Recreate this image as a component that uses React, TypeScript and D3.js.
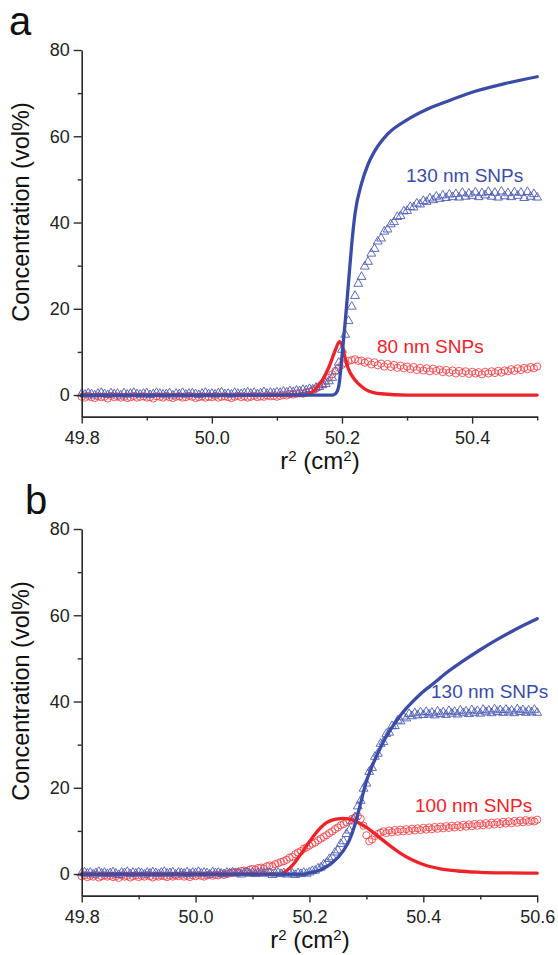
import React, { useEffect, useRef } from "react";
import * as d3 from "d3";

// sampling grid of the measured profiles (r^2 step, cm^2)
const STEP = 0.005;
const X_START = 49.8;

// Panel a: 130 nm SNPs (triangles) and 80 nm SNPs (circles), 49.8 .. 50.5
const A_TRI = [
  0.3,0.1,0.4,0.2,-0.1,0.3,0.5,0.2,0.0,0.4,
  0.2,0.3,-0.1,0.4,0.1,0.3,0.5,0.2,0.1,0.3,
  0.4,0.0,0.2,0.5,0.3,0.1,0.2,0.4,-0.1,0.3,
  0.2,0.5,0.1,0.3,0.4,0.2,0.0,0.3,0.5,0.2,
  0.3,0.1,0.4,0.6,0.2,0.3,0.1,0.5,0.3,0.2,
  0.4,0.6,0.3,0.5,0.2,0.4,0.7,0.3,0.5,0.4,
  0.6,
  0.5,0.8,0.6,0.9,0.7,1.0,0.9,1.2,
  1.1,1.4,1.3,1.7,1.9,2.3,2.6,3.2,4.0,5.5,7.5,
  10.5,14.0,17.2,20.5,23.0,25.8,27.4,29.8,30.9,32.8,
  33.9,35.6,36.3,37.9,38.4,39.6,40.1,41.3,41.5,42.6,
  42.7,43.6,43.5,44.4,44.2,45.0,44.8,45.6,45.2,46.0,45.5,
  46.3,45.7,46.5,45.9,46.6,45.8,46.9,46.0,46.7,46.2,
  47.0,45.9,46.8,46.3,47.1,46.0,46.9,45.8,47.2,46.1,
  46.8,45.9,47.0,46.2,46.9,45.7,47.1,46.0,46.6,45.8,
];
const A_CIR = [
  -0.4,-0.6,-0.2,-0.5,-0.7,-0.3,-0.5,-0.4,-0.8,-0.2,
  -0.5,-0.3,-0.6,-0.4,-0.7,-0.5,-0.2,-0.6,-0.4,-0.3,
  -0.6,-0.5,-0.8,-0.3,-0.4,-0.6,-0.2,-0.5,-0.7,-0.4,
  -0.3,-0.6,-0.5,-0.2,-0.4,-0.7,-0.5,-0.3,-0.6,-0.4,
  -0.5,-0.2,-0.6,-0.4,-0.3,-0.5,-0.7,-0.4,-0.2,-0.5,
  -0.3,-0.6,-0.4,-0.2,-0.5,-0.3,-0.4,-0.1,-0.3,-0.2,
  -0.4,
  -0.2,0.0,-0.1,0.2,0.1,0.3,0.4,0.3,0.6,
  0.8,1.1,1.5,2.0,2.6,3.2,4.0,4.8,5.6,6.3,7.0,7.4,7.9,8.1,8.3,7.9,8.0,7.5,7.8,
  7.1,7.6,6.9,7.3,6.6,7.2,6.5,7.0,6.3,6.8,6.2,6.6,
  6.0,6.5,5.8,6.3,5.7,6.2,5.5,6.1,5.6,5.9,
  5.3,5.8,5.2,5.7,5.0,5.6,5.1,5.5,4.9,5.4,
  5.0,5.3,4.8,5.4,5.0,5.5,5.1,5.6,5.2,5.7,
  5.5,6.0,5.6,6.2,5.8,6.3,6.0,6.5,6.2,6.6,
];
const A_FIT_BLUE_X = [49.8,50.185,50.19,50.195,50.2,50.205,50.21,50.215,50.22,50.23,50.24,50.25,50.27,50.3,50.33,50.36,50.4,50.45,50.5];
const A_FIT_BLUE_Y = [0,0,0.3,2,9,17,26,35,42,49,53.5,56.5,60.5,63.8,66.2,68,70.2,72.2,73.8];
const A_FIT_RED_X = [49.8,50.14,50.15,50.16,50.17,50.18,50.19,50.196,50.2,50.205,50.21,50.22,50.23,50.24,50.26,50.3,50.5];
const A_FIT_RED_Y = [0,0,0.3,1.5,3.5,6.5,10.5,12.4,11.5,8.5,6,3.5,2,1,0.3,0,0];

// Panel b: 130 nm SNPs (triangles) and 100 nm SNPs (circles), 49.8 .. 50.6
const B_TRI = [
  0.2,0.4,0.1,0.3,-0.1,0.2,0.5,0.1,0.3,0.0,
  0.2,0.4,0.1,-0.2,0.3,0.2,0.5,0.0,0.3,0.1,
  0.4,0.2,-0.1,0.3,0.1,0.4,0.2,0.0,0.3,0.5,
  0.1,0.2,0.4,-0.1,0.3,0.2,0.1,0.4,0.0,0.3,
  0.2,0.5,0.1,0.3,0.2,-0.1,0.4,0.2,0.3,0.1,
  0.0,0.3,0.2,0.4,0.1,0.3,-0.1,0.2,0.4,0.1,
  0.3,0.0,0.2,0.4,0.1,0.3,0.2,-0.2,0.1,0.3,
  0.0,0.2,-0.1,0.3,0.1,-0.2,0.2,0.0,0.3,0.1,
  0.4,0.7,0.8,1.3,1.5,2.2,2.6,3.5,3.9,5.0,
  5.5,7.0,7.6,9.3,10.1,12.2,13.2,15.7,17.0,19.8,
  21.0,23.7,24.6,27.2,27.9,30.2,30.6,32.5,32.8,34.3,
  34.3,35.6,35.4,36.5,36.1,37.1,36.6,
  37.3,36.8,37.5,36.9,37.6,37.0,37.4,36.8,37.7,37.1,
  37.5,36.9,37.8,37.2,37.6,37.0,37.9,37.3,37.7,37.1,
  38.0,37.4,37.8,37.2,38.1,37.5,37.9,37.3,38.2,37.6,
  38.0,37.4,38.1,37.5,37.9,37.3,38.2,37.6,38.0,37.4,
  37.9,37.5,38.1,37.4,
];
const B_CIR = [
  -0.5,-0.3,-0.7,-0.4,-0.6,-0.2,-0.8,-0.5,-0.3,-0.6,
  -0.4,-0.7,-0.5,-0.9,-0.3,-0.6,-0.4,-0.8,-0.5,-0.3,
  -0.7,-0.4,-0.6,-0.2,-0.5,-0.8,-0.4,-0.6,-0.3,-0.5,
  -0.7,-0.4,-0.6,-0.3,-0.5,-0.2,-0.6,-0.4,-0.7,-0.3,
  -0.5,-0.2,-0.4,-0.6,-0.3,-0.1,-0.4,-0.2,-0.3,0.0,-0.2,
  0.0,0.2,0.3,0.5,0.4,0.7,0.8,0.6,1.0,1.2,1.0,1.4,1.5,1.3,1.8,2.0,1.8,2.3,2.5,2.8,
  3.0,3.3,3.8,4.0,4.6,5.0,5.3,5.9,6.2,6.6,
  7.0,7.3,7.8,8.2,8.6,9.0,9.5,9.9,10.4,10.8,11.3,11.6,12.0,12.4,12.8,13.1,13.4,
  12.8,11.2,9.0,7.6,8.0,8.8,9.3,9.6,
  9.9,9.5,10.1,9.7,10.2,9.8,10.3,9.9,10.4,10.0,
  10.5,10.1,10.6,10.2,10.7,10.3,10.8,10.4,10.9,10.5,
  11.0,10.6,11.1,10.7,11.2,10.8,11.3,10.9,11.4,11.0,
  11.5,11.1,11.6,11.2,11.7,11.3,11.8,11.4,11.9,11.5,
  12.0,11.6,12.1,11.7,12.2,11.8,12.3,11.9,12.4,12.0,
  12.5,12.1,12.4,12.2,12.6,
];
const B_FIT_BLUE_X = [49.8,50.19,50.2,50.22,50.24,50.26,50.27,50.28,50.29,50.3,50.31,50.32,50.33,50.34,50.35,50.36,50.37,50.38,50.39,50.4,50.42,50.44,50.47,50.5,50.53,50.56,50.6];
const B_FIT_BLUE_Y = [0,0,0.3,1,2.6,5.5,7.8,11.5,16.5,21.5,25,28,30.7,33,35,36.8,38.4,39.8,41.1,42.3,44.4,46.6,49.4,52,54.4,56.6,59.2];
const B_FIT_RED_X = [49.8,50.15,50.16,50.17,50.18,50.19,50.2,50.21,50.22,50.23,50.24,50.25,50.26,50.27,50.28,50.29,50.3,50.32,50.34,50.36,50.38,50.4,50.43,50.46,50.5,50.55,50.6];
const B_FIT_RED_Y = [0,0,0.8,2,3.7,5.6,7.5,9.3,10.8,11.9,12.5,12.8,12.9,12.7,12.3,11.6,10.8,8.8,6.7,4.8,3.3,2.2,1.2,0.7,0.4,0.25,0.2];

const Y_TICKS = [0, 20, 40, 60, 80];
const Y_MINOR = [10, 30, 50, 70];
const A_X_TICKS = [49.8, 50.0, 50.2, 50.4];
const A_X_MINOR = [49.9, 50.1, 50.3, 50.5];
const B_X_TICKS = [49.8, 50.0, 50.2, 50.4, 50.6];
const B_X_MINOR = [49.9, 50.1, 50.3, 50.5];

const BLUE = "#3b4ca6";
const BLUE_MK = "#4c5cb4";
const RED = "#ec2329";
const RED_MK = "#f0474c";
const AXIS = "#2b2b2b";
const FONT = "'Liberation Sans', Arial, sans-serif";

type PanelCfg = {
  oy: number;
  letter: string;
  letterX: number;
  xMax: number;
  xTicks: number[];
  xMinor: number[];
  tri: number[];
  cir: number[];
  fitBlue: [number[], number[]];
  fitRed: [number[], number[]];
  labBlue: [string, number, number];
  labRed: [string, number, number];
  titleX: number;
  titleY: number;
};

const PANELS: PanelCfg[] = [
  {
    oy: 0, letter: "a", letterX: 9, xMax: 50.5,
    xTicks: A_X_TICKS, xMinor: A_X_MINOR, tri: A_TRI, cir: A_CIR,
    fitBlue: [A_FIT_BLUE_X, A_FIT_BLUE_Y], fitRed: [A_FIT_RED_X, A_FIT_RED_Y],
    labBlue: ["130 nm SNPs", 406, 182], labRed: ["80 nm SNPs", 377, 353],
    titleX: 320, titleY: 469,
  },
  {
    oy: 479, letter: "b", letterX: 25, xMax: 50.6,
    xTicks: B_X_TICKS, xMinor: B_X_MINOR, tri: B_TRI, cir: B_CIR,
    fitBlue: [B_FIT_BLUE_X, B_FIT_BLUE_Y], fitRed: [B_FIT_RED_X, B_FIT_RED_Y],
    labBlue: ["130 nm SNPs", 431, 219], labRed: ["100 nm SNPs", 415, 333],
    titleX: 310, titleY: 469,
  },
];

function drawPanel(root: any, p: PanelCfg) {
  const g = root.append("g").attr("transform", `translate(0,${p.oy})`);
  const x = d3.scaleLinear().domain([49.8, p.xMax]).range([81.7, 537.2]);
  const y = d3.scaleLinear().domain([-5, 80]).range([416.6, 50]);

  const gridX = (arr: number[]) => arr.map((_, i) => X_START + i * STEP);

  // circles (red data)
  const cx = gridX(p.cir);
  g.append("g").selectAll("circle").data(p.cir).join("circle")
    .attr("cx", (_: number, i: number) => x(cx[i])).attr("cy", (d: number) => y(d)).attr("r", 3.6)
    .attr("fill", "none").attr("stroke", RED_MK).attr("stroke-width", 1).attr("opacity", 0.9);

  // triangles (blue data)
  const tx = gridX(p.tri);
  const tri = d3.symbol().type(d3.symbolTriangle).size(34);
  g.append("g").selectAll("path").data(p.tri).join("path")
    .attr("d", tri as any)
    .attr("transform", (d: number, i: number) => `translate(${x(tx[i])},${y(d)})`)
    .attr("fill", "none").attr("stroke", BLUE_MK).attr("stroke-width", 1).attr("opacity", 0.9);

  const fitPath = (xs: number[], ys: number[], color: string) => {
    const pts = xs.map((v, i) => [x(v), y(ys[i])] as [number, number]);
    g.append("path").attr("d", d3.line().curve(d3.curveMonotoneX)(pts) as string)
      .attr("fill", "none").attr("stroke", color).attr("stroke-width", 3.3)
      .attr("stroke-linejoin", "round").attr("stroke-linecap", "round");
  };
  fitPath(p.fitRed[0], p.fitRed[1], RED);
  fitPath(p.fitBlue[0], p.fitBlue[1], BLUE);

  // axes
  const yAxis = g.append("g").attr("transform", "translate(81.7,0)")
    .call(d3.axisLeft(y).tickValues(Y_TICKS).tickSize(8).tickSizeOuter(0).tickPadding(4).tickFormat(d3.format("d")));
  g.append("g").attr("transform", "translate(81.7,0)")
    .call(d3.axisLeft(y).tickValues(Y_MINOR).tickSize(4).tickSizeOuter(0).tickFormat(() => ""))
    .select(".domain").remove();
  const xAxis = g.append("g").attr("transform", "translate(0,416.6)")
    .call(d3.axisBottom(x).tickValues(p.xTicks).tickSize(7).tickSizeOuter(0).tickPadding(8).tickFormat(d3.format(".1f")));
  g.append("g").attr("transform", "translate(0,416.6)")
    .call(d3.axisBottom(x).tickValues(p.xMinor).tickSize(4).tickSizeOuter(0).tickFormat(() => ""))
    .select(".domain").remove();

  g.selectAll(".domain").attr("stroke", AXIS).attr("stroke-width", 1.6);
  g.selectAll(".tick line").attr("stroke", AXIS).attr("stroke-width", 1.4);
  [yAxis, xAxis].forEach((a: any) =>
    a.selectAll("text").attr("font-family", FONT).attr("font-size", 18).attr("fill", "#222")
  );

  // titles
  g.append("text").attr("x", p.letterX).attr("y", 35).attr("font-family", FONT)
    .attr("font-size", 40).attr("fill", "#111").text(p.letter);

  g.append("text").attr("transform", "translate(29,212) rotate(-90)")
    .attr("text-anchor", "middle").attr("font-family", FONT).attr("font-size", 23.5)
    .attr("fill", "#111").text("Concentration (vol%)");

  const xt = g.append("text").attr("x", p.titleX).attr("y", p.titleY)
    .attr("text-anchor", "middle").attr("font-family", FONT).attr("font-size", 24).attr("fill", "#111");
  xt.append("tspan").text("r");
  xt.append("tspan").attr("font-size", 15).attr("dy", -8).text("2");
  xt.append("tspan").attr("dy", 8).text(" (cm");
  xt.append("tspan").attr("font-size", 15).attr("dy", -8).text("2");
  xt.append("tspan").attr("dy", 8).text(")");

  g.append("text").attr("x", p.labBlue[1]).attr("y", p.labBlue[2]).attr("font-family", FONT)
    .attr("font-size", 19).attr("fill", BLUE).text(p.labBlue[0]);
  g.append("text").attr("x", p.labRed[1]).attr("y", p.labRed[2]).attr("font-family", FONT)
    .attr("font-size", 19).attr("fill", RED).text(p.labRed[0]);
}

export default function App() {
  const ref = useRef<SVGSVGElement>(null);
  useEffect(() => {
    const svg = d3.select(ref.current);
    svg.selectAll("*").remove();
    const root = svg.append("g");
    PANELS.forEach((p) => drawPanel(root, p));
  }, []);
  return (
    <svg
      ref={ref}
      width={558}
      height={955}
      style={{ position: "absolute", left: 0, top: 0, background: "#fff" }}
    />
  );
}
